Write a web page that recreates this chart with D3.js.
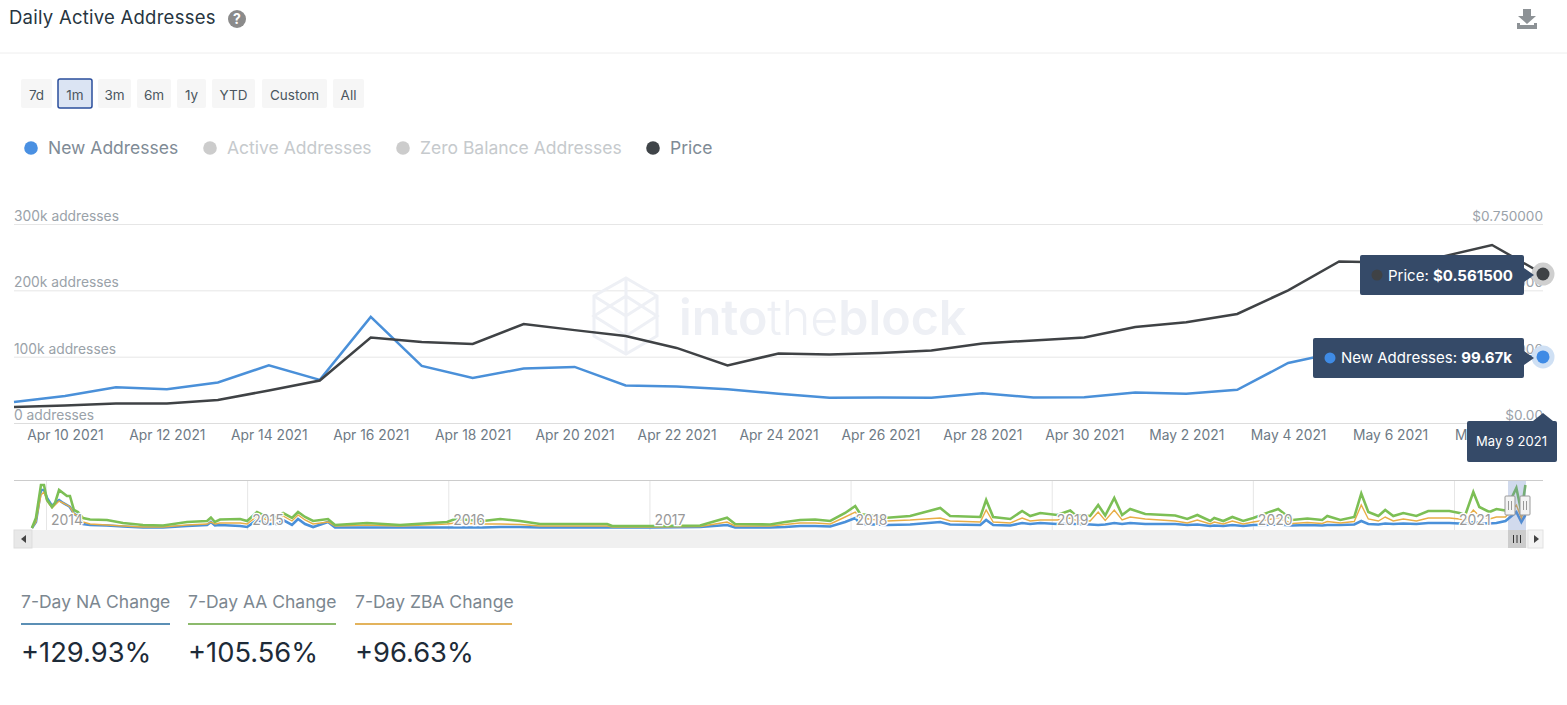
<!DOCTYPE html>
<html>
<head>
<meta charset="utf-8">
<script src="https://cdn.jsdelivr.net/npm/d3@7"></script>
<style>
	html, body { margin: 0; padding: 0; background: #fff; overflow: hidden; }
	svg { display: block; font-family: Inter, "Noto Sans", sans-serif; }
	.axis .domain { display: none; }
	.axis text { font-family: Inter, "Noto Sans", sans-serif; }
</style>
</head>
<body>
<script>
// main chart, one value per day
const days = ['2021-04-09', '2021-04-10', '2021-04-11', '2021-04-12', '2021-04-13', '2021-04-14', '2021-04-15', '2021-04-16', '2021-04-17', '2021-04-18', '2021-04-19', '2021-04-20', '2021-04-21', '2021-04-22', '2021-04-23', '2021-04-24', '2021-04-25', '2021-04-26', '2021-04-27', '2021-04-28', '2021-04-29', '2021-04-30', '2021-05-01', '2021-05-02', '2021-05-03', '2021-05-04', '2021-05-05', '2021-05-06', '2021-05-07', '2021-05-08', '2021-05-09'];
const newAddresses = [31.6, 40.7, 54, 51, 61, 87, 65, 160, 86, 68, 82, 84.5, 56.5, 55, 51, 44, 38, 38.5, 38, 45, 38.5, 39, 46, 44, 50, 90.5, 107, 100, 100, 103, 99.67];
const price = [0.06, 0.066, 0.0735, 0.0735, 0.0867, 0.1225, 0.16, 0.322, 0.305, 0.298, 0.373, 0.35, 0.328, 0.283, 0.217, 0.262, 0.258, 0.264, 0.273, 0.3, 0.311, 0.322, 0.362, 0.38, 0.411, 0.5, 0.609, 0.605, 0.626, 0.671, 0.5615];

const dateTicks = ['2021-04-10', '2021-04-12', '2021-04-14', '2021-04-16', '2021-04-18', '2021-04-20', '2021-04-22', '2021-04-24', '2021-04-26', '2021-04-28', '2021-04-30', '2021-05-02', '2021-05-04', '2021-05-06', '2021-05-08'];
const addressTicks = [0, 100, 200, 300];
const addressTickLabels = ['0 addresses', '100k addresses', '200k addresses', '300k addresses'];
const priceTicks = [0, 0.25, 0.5, 0.75];
const priceTickLabels = ['$0.00', '$0.250000', '$0.500000', '$0.750000'];

// navigator overview, decimal years and thousands of addresses
const navYears = [
	2013.93, 2013.95, 2013.975, 2013.99, 2014.005, 2014.03, 2014.045, 2014.065, 2014.085, 2014.104,
	2014.119, 2014.139, 2014.159, 2014.184, 2014.219, 2014.303, 2014.383, 2014.482, 2014.582, 2014.701,
	2014.801, 2014.82, 2014.84, 2014.865, 2014.965, 2015, 2015.049, 2015.099, 2015.149, 2015.179,
	2015.223, 2015.253, 2015.288, 2015.328, 2015.402, 2015.437, 2015.596, 2015.76, 2015.994, 2016.034,
	2016.173, 2016.258, 2016.357, 2016.456, 2016.79, 2016.815, 2017.004, 2017.252, 2017.386, 2017.426,
	2017.6, 2017.675, 2017.749, 2017.824, 2017.899, 2017.973, 2018.023, 2018.048, 2018.182, 2018.296,
	2018.446, 2018.495, 2018.645, 2018.674, 2018.709, 2018.794, 2018.853, 2018.893, 2018.943, 2019.027,
	2019.092, 2019.117, 2019.191, 2019.231, 2019.266, 2019.311, 2019.35, 2019.39, 2019.465, 2019.614,
	2019.674, 2019.724, 2019.788, 2019.808, 2019.853, 2019.898, 2019.952, 2020.002, 2020.126, 2020.196,
	2020.271, 2020.345, 2020.37, 2020.435, 2020.504, 2020.539, 2020.574, 2020.624, 2020.658, 2020.698,
	2020.748, 2020.813, 2020.872, 2020.977, 2021.027, 2021.056, 2021.096, 2021.126, 2021.176, 2021.211,
	2021.256, 2021.31, 2021.335, 2021.355
];
const navActive = [
	0, 100, 430, 430, 280, 210, 250, 380, 350, 320,
	320, 180, 160, 100, 85, 80, 50, 30, 25, 60,
	70, 105, 60, 85, 90, 70, 160, 110, 110, 150,
	100, 160, 110, 70, 90, 30, 50, 30, 60, 90,
	70, 90, 70, 40, 40, 20, 20, 25, 103, 40,
	35, 60, 80, 85, 70, 150, 220, 140, 103, 120,
	200, 120, 110, 280, 110, 90, 170, 120, 150, 130,
	175, 130, 120, 230, 125, 300, 130, 190, 140, 125,
	90, 130, 70, 100, 70, 110, 70, 100, 190, 80,
	95, 80, 120, 80, 110, 345, 160, 120, 180, 120,
	150, 120, 170, 170, 150, 130, 360, 210, 160, 190,
	175, 400, 160, 430
];
const navZero = [
	0, 60, 330, 360, 270, 200, 230, 270, 250, 230,
	210, 140, 120, 60, 40, 30, 20, 10, 10, 30,
	40, 60, 40, 50, 50, 40, 120, 80, 80, 120,
	70, 130, 80, 40, 60, 20, 30, 20, 40, 50,
	40, 40, 35, 20, 20, 10, 10, 15, 60, 20,
	20, 35, 50, 50, 40, 110, 160, 100, 70, 80,
	100, 70, 60, 180, 60, 50, 100, 70, 80, 80,
	100, 80, 70, 160, 75, 180, 80, 110, 90, 70,
	50, 80, 40, 60, 40, 70, 40, 60, 100, 45,
	55, 45, 65, 50, 65, 230, 90, 70, 110, 70,
	90, 70, 100, 100, 90, 75, 180, 120, 90, 110,
	110, 230, 100, 230
];
const navNew = [
	0, 60, 380, 380, 300, 220, 250, 280, 250, 230,
	210, 140, 120, 40, 30, 25, 15, 5, 5, 20,
	30, 60, 25, 30, 20, 10, 80, 40, 40, 80,
	30, 90, 40, 10, 60, 5, 5, 5, 5, 5,
	5, 10, 10, 5, 5, 5, 5, 10, 30, 5,
	5, 10, 20, 20, 15, 60, 100, 40, 30, 35,
	60, 35, 30, 80, 30, 25, 50, 40, 50, 40,
	45, 40, 35, 30, 35, 50, 40, 50, 40, 40,
	30, 35, 20, 25, 20, 30, 20, 30, 35, 25,
	30, 25, 30, 30, 35, 70, 40, 35, 45, 40,
	45, 40, 50, 50, 45, 40, 60, 50, 45, 50,
	70, 160, 60, 130
];
const yearTicks = [2014, 2015, 2016, 2017, 2018, 2019, 2020, 2021];

const ranges = ['7d', '1m', '3m', '6m', '1y', 'YTD', 'Custom', 'All'];
const rangeLefts = [21, 58, 98, 137, 177, 212, 262, 333];
const rangeRights = [52, 92, 131, 171, 206, 255, 327, 364];
const legendNames = ['New Addresses', 'Active Addresses', 'Zero Balance Addresses', 'Price'];
const legendDotX = [31, 210, 403, 653];
const legendDots = ['#4a90e2', '#cccccc', '#cccccc', '#3f4448'];
const legendText = ['#808b96', '#c6cacd', '#c6cacd', '#808b96'];
const changeNames = ['7-Day NA Change', '7-Day AA Change', '7-Day ZBA Change'];
const changeValues = ['+129.93%', '+105.56%', '+96.63%'];
const changeLefts = [21, 188, 355];
const changeRights = [170, 336, 512];
const changeColors = ['#5b8fb5', '#8cba6c', '#e3b35c'];

const BLUE = '#4a90d9';
const DARK = '#3f4245';
const TIP = '#354a68';

const svg = d3.select('body').append('svg').attr('width', 1567).attr('height', 705);

// header
svg.append('text').attr('x', 9).attr('y', 23.5).attr('font-size', 18.5).attr('fill', '#27353f').attr('letter-spacing', 0.25).text('Daily Active Addresses');
svg.append('circle').attr('cx', 237).attr('cy', 19).attr('r', 9).attr('fill', '#8b8b8b');
svg.append('text').attr('x', 237).attr('y', 24).attr('text-anchor', 'middle').attr('font-size', 14).attr('font-weight', 700).attr('fill', '#fff').text('?');
svg.append('path').attr('d', 'M1523 9h8v7h5l-9 8-9-8h5z M1517 23h3v2h14v-2h3v6h-20z').attr('fill', '#8d9296');
svg.append('line').attr('x1', 0).attr('x2', 1567).attr('y1', 53).attr('y2', 53).attr('stroke', '#eeeeee');

// range buttons
const btn = svg.selectAll('g.range').data(ranges).enter().append('g').attr('class', 'range');
btn.append('rect')
	.attr('x', (d, i) => rangeLefts[i])
	.attr('y', 79)
	.attr('width', (d, i) => rangeRights[i] - rangeLefts[i])
	.attr('height', 29)
	.attr('rx', 2)
	.attr('fill', d => d === '1m' ? '#dbe4f3' : '#f6f6f6')
	.attr('stroke', d => d === '1m' ? '#2a4d9c' : 'none')
	.attr('stroke-width', 1.5);
btn.append('text')
	.attr('x', (d, i) => (rangeLefts[i] + rangeRights[i]) / 2)
	.attr('y', 100)
	.attr('text-anchor', 'middle')
	.attr('font-size', 13.5)
	.attr('fill', '#4b5660')
	.text(d => d);

// legend
legendNames.forEach((name, i) => {
	svg.append('circle').attr('cx', legendDotX[i]).attr('cy', 148).attr('r', 6.8).attr('fill', legendDots[i]);
	svg.append('text').attr('x', legendDotX[i] + 17).attr('y', 154).attr('font-size', 17.5).attr('fill', legendText[i]).text(name);
});

// main chart scales
const parseDay = d3.utcParse('%Y-%m-%d');
const x = d3.scaleUtc().domain([parseDay(days[0]), parseDay(days[days.length - 1])]).range([14, 1543]);
const yAddr = d3.scaleLinear().domain([0, 300]).range([423, 224]);
const yPrice = d3.scaleLinear().domain([0, 0.75]).range([423, 224]);

const leftAxis = svg.append('g').attr('class', 'axis').attr('transform', 'translate(14,0)')
	.call(d3.axisRight(yAddr).tickValues(addressTicks).tickSize(1529).tickFormat((d, i) => addressTickLabels[i]));
leftAxis.selectAll('line').attr('stroke', d => d === 0 ? '#dddddd' : '#e6e6e6');
leftAxis.selectAll('text').attr('x', 0).attr('dy', -3.5).attr('font-size', 13.8).attr('fill', '#9aa2a9').attr('text-anchor', 'start');

const rightAxis = svg.append('g').attr('class', 'axis').attr('transform', 'translate(1543,0)')
	.call(d3.axisLeft(yPrice).tickValues(priceTicks).tickSize(0).tickFormat((d, i) => priceTickLabels[i]));
rightAxis.selectAll('text').attr('x', 0).attr('dy', -3.5).attr('font-size', 13.6).attr('fill', '#9aa2a9').attr('text-anchor', 'end');

const bottomAxis = svg.append('g').attr('class', 'axis').attr('transform', 'translate(0,423)')
	.call(d3.axisBottom(x).tickValues(dateTicks.map(parseDay)).tickSize(0).tickFormat(d3.utcFormat('%b %-d %Y')));
bottomAxis.selectAll('text').attr('y', 17).attr('dy', 0).attr('font-size', 13.8).attr('fill', '#6e7a85');

// watermark
const mark = svg.append('g').attr('fill', 'none').attr('stroke', '#eef0f5').attr('stroke-width', 3);
mark.append('path').attr('d', 'M626 278L657 296V336L626 354L594 336V296Z');
mark.append('path').attr('d', 'M594 296L626 316L657 296M626 278V354M594 316L626 336L657 316L626 296Z');
const markText = svg.append('text').attr('x', 679).attr('y', 335).attr('font-size', 48.4).attr('fill', '#eef0f5');
markText.append('tspan').attr('font-weight', 600).text('into');
markText.append('tspan').attr('font-weight', 300).text('the');
markText.append('tspan').attr('font-weight', 600).text('block');

// main lines
const dayIndex = days.map((d, i) => i);
const lineNew = d3.line().x(i => x(parseDay(days[i]))).y(i => yAddr(newAddresses[i]));
const linePrice = d3.line().x(i => x(parseDay(days[i]))).y(i => yPrice(price[i]));
svg.append('path').attr('d', lineNew(dayIndex)).attr('fill', 'none').attr('stroke', BLUE).attr('stroke-width', 2.5);
svg.append('path').attr('d', linePrice(dayIndex)).attr('fill', 'none').attr('stroke', DARK).attr('stroke-width', 2.5);

// hover markers on last day
const last = days.length - 1;
const lastX = x(parseDay(days[last]));
const yLastNew = yAddr(newAddresses[last]);
const yLastPrice = yPrice(price[last]);
svg.append('circle').attr('cx', lastX).attr('cy', yLastPrice).attr('r', 11.5).attr('fill', '#cfcfcf');
svg.append('circle').attr('cx', lastX).attr('cy', yLastPrice).attr('r', 6.5).attr('fill', DARK);
svg.append('circle').attr('cx', lastX).attr('cy', yLastNew).attr('r', 11.5).attr('fill', '#cfe0f4');
svg.append('circle').attr('cx', lastX).attr('cy', yLastNew).attr('r', 6.5).attr('fill', '#3f8be5');

// tooltips
const tooltip = (left, right, cy, dot, label, value) => {
	svg.append('path')
		.attr('d', `M${left + 2} ${cy - 20}H${right - 2}Q${right} ${cy - 20} ${right} ${cy - 18}V${cy - 7}L${right + 10} ${cy}L${right} ${cy + 7}V${cy + 18}Q${right} ${cy + 20} ${right - 2} ${cy + 20}H${left + 2}Q${left} ${cy + 20} ${left} ${cy + 18}V${cy - 18}Q${left} ${cy - 20} ${left + 2} ${cy - 20}Z`)
		.attr('fill', TIP);
	svg.append('circle').attr('cx', left + 17).attr('cy', cy).attr('r', 5.5).attr('fill', dot);
	const t = svg.append('text').attr('x', left + 28).attr('y', cy + 5.5).attr('font-size', 15).attr('fill', '#fff');
	t.append('tspan').text(label);
	t.append('tspan').attr('font-weight', 700).text(value);
};
tooltip(1360, 1524, yLastPrice + 1, DARK, 'Price: ', '$0.561500');
tooltip(1313, 1524, yLastNew + 1, '#3f8be5', 'New Addresses: ', '99.67k');

svg.append('path')
	.attr('d', `M1469 421H${lastX - 10}L${lastX} 413L${lastX + 10} 421H1555Q1557 421 1557 423V460Q1557 462 1555 462H1469Q1467 462 1467 460V423Q1467 421 1469 421Z`)
	.attr('fill', TIP);
svg.append('text').attr('x', 1511.5).attr('y', 446).attr('text-anchor', 'middle').attr('font-size', 13).attr('fill', '#fff').text('May 9 2021');

// navigator
const xNav = d3.scaleLinear().domain([2014, 2021]).range([46, 1454]);
const yNav = d3.scaleLinear().domain([0, 440]).range([528, 484]);

const navAxis = svg.append('g').attr('class', 'axis').attr('transform', 'translate(0,530)')
	.call(d3.axisTop(xNav).tickValues(yearTicks).tickSize(50).tickFormat(''));
navAxis.selectAll('line').attr('stroke', '#e6e6e6');
svg.append('line').attr('x1', 14).attr('x2', 1543).attr('y1', 480.5).attr('y2', 480.5).attr('stroke', '#cccccc');

const lineNav = values => d3.line().x((d, i) => xNav(navYears[i])).y(d => yNav(d))(values);
const navSeries = [[navNew, '#4a90d9', 2.6], [navZero, '#e8ad45', 1.4], [navActive, '#7cbf55', 2.6]];
navSeries.forEach(s => {
	svg.append('path').attr('d', lineNav(s[0])).attr('fill', 'none').attr('stroke', s[1]).attr('stroke-width', s[2]);
});

svg.selectAll('text.year').data(yearTicks).enter().append('text')
	.attr('class', 'year')
	.attr('x', d => xNav(d) + 5)
	.attr('y', 525)
	.attr('font-size', 14)
	.attr('fill', '#999999')
	.attr('stroke', '#ffffff')
	.attr('stroke-width', 2.5)
	.attr('paint-order', 'stroke')
	.text(d => d);

// scrollbar and selected window
svg.append('rect').attr('x', 14).attr('y', 530).attr('width', 1529).attr('height', 18).attr('fill', '#f0f0f0');
svg.append('rect').attr('x', 14).attr('y', 530).attr('width', 18).attr('height', 18).attr('fill', '#e8e8e8').attr('stroke', '#dddddd');
svg.append('path').attr('d', 'M26 535V543L21 539Z').attr('fill', '#444');
svg.append('rect').attr('x', 1528).attr('y', 530).attr('width', 15).attr('height', 18).attr('fill', '#f4f4f4').attr('stroke', '#e2e2e2');
svg.append('path').attr('d', 'M1534 535V543L1539 539Z').attr('fill', '#444');
svg.append('rect').attr('x', 1508).attr('y', 530).attr('width', 18).attr('height', 18).attr('fill', '#cccccc');
svg.append('path').attr('d', 'M1513.5 535V543M1517 535V543M1520.5 535V543').attr('stroke', '#333').attr('stroke-width', 1);
svg.append('rect').attr('x', 1508).attr('y', 481).attr('width', 18).attr('height', 49).attr('fill', 'rgba(102,133,194,0.3)');
[1505, 1520].forEach(hx => {
	svg.append('rect').attr('x', hx).attr('y', 496).attr('width', 10).attr('height', 19).attr('rx', 1).attr('fill', '#f4f4f4').attr('stroke', '#999');
	svg.append('path').attr('d', `M${hx + 3.5} 501V510M${hx + 6.5} 501V510`).attr('stroke', '#999');
});

// 7 day change blocks
changeNames.forEach((name, i) => {
	svg.append('text').attr('x', changeLefts[i]).attr('y', 608).attr('font-size', 17.5).attr('fill', '#7c8790').text(name);
	svg.append('line').attr('x1', changeLefts[i]).attr('x2', changeRights[i]).attr('y1', 624).attr('y2', 624).attr('stroke', changeColors[i]).attr('stroke-width', 2);
	svg.append('text').attr('x', changeLefts[i]).attr('y', 662).attr('font-size', 27.3).attr('fill', '#1d2b38').text(changeValues[i]);
});
</script>
</body>
</html>
